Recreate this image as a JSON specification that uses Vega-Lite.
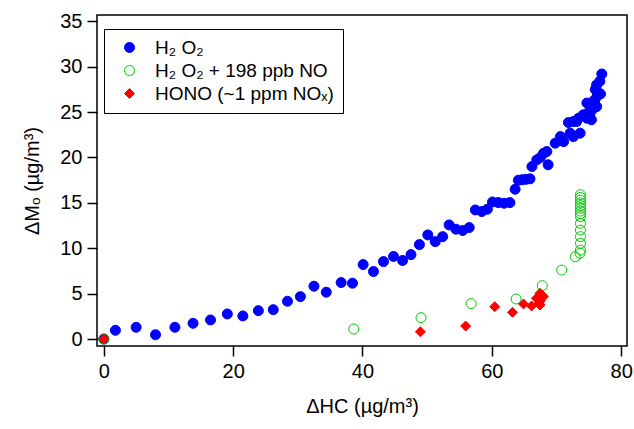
{
  "$schema": "https://vega.github.io/schema/vega-lite/v6.json",
  "autosize": "none",
  "width": 530,
  "height": 331,
  "padding": {"left": 97, "top": 15, "right": 7, "bottom": 83},
  "background": "white",
  "config": {
    "font": "Liberation Sans",
    "view": {"stroke": "black", "strokeWidth": 1.5},
    "axis": {"grid": false, "domain": false, "tickColor": "black", "tickWidth": 1.5, "tickSize": 10, "labelColor": "black", "titleColor": "black", "labelFontSize": 20, "titleFontSize": 20, "titleFontWeight": "normal", "labelPadding": 5},
    "legend": {"title": null, "orient": "none", "legendX": 7, "legendY": 14, "strokeColor": "black", "padding": 9, "labelFontSize": 19, "labelLimit": 0, "labelColor": "black", "symbolOffset": 7, "labelOffset": 16, "rowPadding": 3, "symbolSize": 100, "symbolStrokeWidth": 1, "fillColor": "white"}
  },
  "data": {"values": [
    {"s": "H₂ O₂", "x": 0, "y": 0},
    {"s": "H₂ O₂", "x": 1.8, "y": 0.96},
    {"s": "H₂ O₂", "x": 5.0, "y": 1.29},
    {"s": "H₂ O₂", "x": 8.0, "y": 0.47},
    {"s": "H₂ O₂", "x": 11.0, "y": 1.29},
    {"s": "H₂ O₂", "x": 13.8, "y": 1.73},
    {"s": "H₂ O₂", "x": 16.5, "y": 2.1},
    {"s": "H₂ O₂", "x": 19.1, "y": 2.76},
    {"s": "H₂ O₂", "x": 21.5, "y": 2.54},
    {"s": "H₂ O₂", "x": 23.9, "y": 3.12},
    {"s": "H₂ O₂", "x": 26.2, "y": 3.23},
    {"s": "H₂ O₂", "x": 28.4, "y": 4.16},
    {"s": "H₂ O₂", "x": 30.4, "y": 4.67},
    {"s": "H₂ O₂", "x": 32.5, "y": 5.82},
    {"s": "H₂ O₂", "x": 34.4, "y": 5.16},
    {"s": "H₂ O₂", "x": 36.7, "y": 6.22},
    {"s": "H₂ O₂", "x": 38.45, "y": 6.15},
    {"s": "H₂ O₂", "x": 40.1, "y": 8.2},
    {"s": "H₂ O₂", "x": 41.7, "y": 7.43},
    {"s": "H₂ O₂", "x": 43.25, "y": 8.53},
    {"s": "H₂ O₂", "x": 44.8, "y": 9.1},
    {"s": "H₂ O₂", "x": 46.2, "y": 8.65},
    {"s": "H₂ O₂", "x": 47.5, "y": 9.3},
    {"s": "H₂ O₂", "x": 48.8, "y": 10.4},
    {"s": "H₂ O₂", "x": 50.1, "y": 11.47},
    {"s": "H₂ O₂", "x": 51.25, "y": 10.73},
    {"s": "H₂ O₂", "x": 52.4, "y": 11.28},
    {"s": "H₂ O₂", "x": 53.4, "y": 12.57},
    {"s": "H₂ O₂", "x": 54.45, "y": 12.1},
    {"s": "H₂ O₂", "x": 55.5, "y": 11.95},
    {"s": "H₂ O₂", "x": 56.5, "y": 12.28},
    {"s": "H₂ O₂", "x": 57.45, "y": 14.22},
    {"s": "H₂ O₂", "x": 58.45, "y": 14.04},
    {"s": "H₂ O₂", "x": 59.3, "y": 14.3},
    {"s": "H₂ O₂", "x": 60.1, "y": 15.1},
    {"s": "H₂ O₂", "x": 61.0, "y": 15.03},
    {"s": "H₂ O₂", "x": 61.9, "y": 14.96},
    {"s": "H₂ O₂", "x": 62.8, "y": 15.03},
    {"s": "H₂ O₂", "x": 63.6, "y": 16.5},
    {"s": "H₂ O₂", "x": 64.1, "y": 17.5},
    {"s": "H₂ O₂", "x": 64.7, "y": 17.55},
    {"s": "H₂ O₂", "x": 65.3, "y": 17.6},
    {"s": "H₂ O₂", "x": 65.9, "y": 17.65},
    {"s": "H₂ O₂", "x": 66.2, "y": 19.0},
    {"s": "H₂ O₂", "x": 66.95, "y": 19.74},
    {"s": "H₂ O₂", "x": 67.5, "y": 20.0},
    {"s": "H₂ O₂", "x": 68.0, "y": 20.47},
    {"s": "H₂ O₂", "x": 68.5, "y": 20.66},
    {"s": "H₂ O₂", "x": 68.7, "y": 19.2},
    {"s": "H₂ O₂", "x": 69.8, "y": 21.58},
    {"s": "H₂ O₂", "x": 70.6, "y": 22.3},
    {"s": "H₂ O₂", "x": 71.1, "y": 21.75},
    {"s": "H₂ O₂", "x": 71.85, "y": 23.85},
    {"s": "H₂ O₂", "x": 72.1, "y": 22.68},
    {"s": "H₂ O₂", "x": 72.6, "y": 22.3},
    {"s": "H₂ O₂", "x": 72.6, "y": 23.96},
    {"s": "H₂ O₂", "x": 73.1, "y": 23.96},
    {"s": "H₂ O₂", "x": 73.4, "y": 24.33},
    {"s": "H₂ O₂", "x": 73.65, "y": 22.68},
    {"s": "H₂ O₂", "x": 74.15, "y": 24.7},
    {"s": "H₂ O₂", "x": 74.7, "y": 24.33},
    {"s": "H₂ O₂", "x": 74.7, "y": 26.0},
    {"s": "H₂ O₂", "x": 75.0, "y": 25.0},
    {"s": "H₂ O₂", "x": 75.2, "y": 24.9},
    {"s": "H₂ O₂", "x": 75.4, "y": 24.15},
    {"s": "H₂ O₂", "x": 75.7, "y": 25.4},
    {"s": "H₂ O₂", "x": 75.7, "y": 26.2},
    {"s": "H₂ O₂", "x": 75.95, "y": 26.35},
    {"s": "H₂ O₂", "x": 76.0, "y": 27.5},
    {"s": "H₂ O₂", "x": 76.2, "y": 25.6},
    {"s": "H₂ O₂", "x": 76.3, "y": 26.8},
    {"s": "H₂ O₂", "x": 76.2, "y": 28.0},
    {"s": "H₂ O₂", "x": 76.5, "y": 27.1},
    {"s": "H₂ O₂", "x": 76.8, "y": 27.0},
    {"s": "H₂ O₂", "x": 76.7, "y": 28.4},
    {"s": "H₂ O₂", "x": 77.0, "y": 29.2},
    {"s": "H₂ O₂ + 198 ppb NO", "x": 0, "y": 0},
    {"s": "H₂ O₂ + 198 ppb NO", "x": 38.65, "y": 1.1},
    {"s": "H₂ O₂ + 198 ppb NO", "x": 49.05, "y": 2.35},
    {"s": "H₂ O₂ + 198 ppb NO", "x": 56.8, "y": 3.9},
    {"s": "H₂ O₂ + 198 ppb NO", "x": 63.75, "y": 4.41},
    {"s": "H₂ O₂ + 198 ppb NO", "x": 67.8, "y": 5.88},
    {"s": "H₂ O₂ + 198 ppb NO", "x": 70.8, "y": 7.6},
    {"s": "H₂ O₂ + 198 ppb NO", "x": 72.9, "y": 9.07},
    {"s": "H₂ O₂ + 198 ppb NO", "x": 73.65, "y": 9.45},
    {"s": "H₂ O₂ + 198 ppb NO", "x": 73.7, "y": 9.8},
    {"s": "H₂ O₂ + 198 ppb NO", "x": 73.7, "y": 10.55},
    {"s": "H₂ O₂ + 198 ppb NO", "x": 73.7, "y": 11.28},
    {"s": "H₂ O₂ + 198 ppb NO", "x": 73.7, "y": 12.0},
    {"s": "H₂ O₂ + 198 ppb NO", "x": 73.7, "y": 12.75},
    {"s": "H₂ O₂ + 198 ppb NO", "x": 73.7, "y": 13.5},
    {"s": "H₂ O₂ + 198 ppb NO", "x": 73.7, "y": 13.8},
    {"s": "H₂ O₂ + 198 ppb NO", "x": 73.7, "y": 14.1},
    {"s": "H₂ O₂ + 198 ppb NO", "x": 73.7, "y": 14.4},
    {"s": "H₂ O₂ + 198 ppb NO", "x": 73.7, "y": 14.7},
    {"s": "H₂ O₂ + 198 ppb NO", "x": 73.7, "y": 15.0},
    {"s": "H₂ O₂ + 198 ppb NO", "x": 73.7, "y": 15.3},
    {"s": "H₂ O₂ + 198 ppb NO", "x": 73.7, "y": 15.6},
    {"s": "H₂ O₂ + 198 ppb NO", "x": 73.7, "y": 15.9},
    {"s": "HONO (~1 ppm NOₓ)", "x": 0, "y": 0},
    {"s": "HONO (~1 ppm NOₓ)", "x": 48.95, "y": 0.8},
    {"s": "HONO (~1 ppm NOₓ)", "x": 55.95, "y": 1.43},
    {"s": "HONO (~1 ppm NOₓ)", "x": 60.45, "y": 3.56},
    {"s": "HONO (~1 ppm NOₓ)", "x": 63.2, "y": 2.94},
    {"s": "HONO (~1 ppm NOₓ)", "x": 64.9, "y": 3.86},
    {"s": "HONO (~1 ppm NOₓ)", "x": 66.15, "y": 3.64},
    {"s": "HONO (~1 ppm NOₓ)", "x": 66.9, "y": 4.49},
    {"s": "HONO (~1 ppm NOₓ)", "x": 67.3, "y": 3.94},
    {"s": "HONO (~1 ppm NOₓ)", "x": 67.45, "y": 3.75},
    {"s": "HONO (~1 ppm NOₓ)", "x": 67.5, "y": 4.2},
    {"s": "HONO (~1 ppm NOₓ)", "x": 67.45, "y": 5.03},
    {"s": "HONO (~1 ppm NOₓ)", "x": 67.8, "y": 4.8},
    {"s": "HONO (~1 ppm NOₓ)", "x": 67.95, "y": 4.66}
  ]},
  "mark": {"type": "point", "size": 100, "strokeWidth": 1, "opacity": 1},
  "encoding": {
    "x": {"field": "x", "type": "quantitative", "scale": {"domain": [-1.05, 80.9], "nice": false, "zero": false},
      "axis": {"values": [0, 20, 40, 60, 80], "title": "ΔHC (µg/m³)", "titlePadding": 15}},
    "y": {"field": "y", "type": "quantitative", "scale": {"domain": [-0.77, 35.7], "nice": false, "zero": false},
      "axis": {"values": [0, 5, 10, 15, 20, 25, 30, 35], "title": "ΔMₒ (µg/m³)", "titlePadding": 17}},
    "fill": {"field": "s", "type": "nominal", "scale": {"domain": ["H₂ O₂", "H₂ O₂ + 198 ppb NO", "HONO (~1 ppm NOₓ)"], "range": ["#0000ff", "transparent", "#ff0000"]}},
    "stroke": {"field": "s", "type": "nominal", "scale": {"domain": ["H₂ O₂", "H₂ O₂ + 198 ppb NO", "HONO (~1 ppm NOₓ)"], "range": ["#0000ff", "#00cc00", "#ff0000"]}},
    "shape": {"field": "s", "type": "nominal", "scale": {"domain": ["H₂ O₂", "H₂ O₂ + 198 ppb NO", "HONO (~1 ppm NOₓ)"], "range": ["circle", "circle", "diamond"]}}
  }
}
